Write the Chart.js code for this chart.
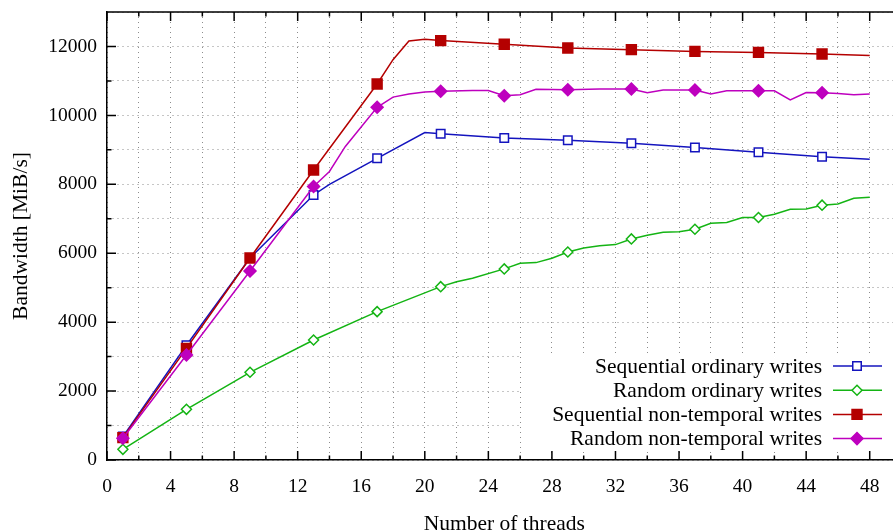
<!DOCTYPE html>
<html>
<head>
<meta charset="utf-8">
<script src="https://cdn.jsdelivr.net/npm/chart.js@4.4.1/dist/chart.umd.min.js"></script>
<style>
  html, body { margin: 0; padding: 0; overflow: hidden; background: #fff; }
  canvas { display: block; }
</style>
</head>
<body>
<canvas id="bw" width="910" height="531"></canvas>
<script>
// values (MiB/s), per thread count
var seqOrdThreads = [1, 5, 9, 13, 14, 17, 20, 21, 25, 29, 33, 37, 41, 45, 48];
var seqOrdValues = [680, 3330, 5860, 7690, 8000, 8755, 9500, 9470, 9345, 9280, 9190, 9070, 8930, 8800, 8725];

var rndOrdThreads = [1, 5, 9, 13, 17, 21, 22, 23, 25, 26, 27, 28, 29, 30, 31, 32, 33, 34, 35, 36, 37, 38, 39, 40, 41, 42, 43, 44, 45, 46, 47, 48];
var rndOrdValues = [310, 1470, 2545, 3483, 4305, 5030, 5175, 5272, 5545, 5710, 5728, 5853, 6037, 6150, 6220, 6250, 6415, 6520, 6610, 6620, 6695, 6870, 6890, 7035, 7035, 7130, 7275, 7285, 7395, 7430, 7595, 7625];

var seqNtThreads = [1, 5, 9, 13, 17, 18, 19, 20, 21, 25, 29, 33, 37, 41, 45, 48];
var seqNtValues = [650, 3240, 5860, 8416, 10910, 11616, 12160, 12210, 12170, 12064, 11957, 11908, 11857, 11828, 11780, 11740];

var rndNtThreads = [1, 5, 9, 13, 14, 15, 17, 18, 19, 20, 21, 23, 24, 25, 26, 27, 29, 31, 33, 34, 35, 37, 38, 39, 41, 42, 43, 44, 45, 46, 47, 48];
var rndNtValues = [630, 3047, 5485, 7937, 8372, 9098, 10235, 10530, 10620, 10680, 10700, 10720, 10720, 10570, 10600, 10755, 10745, 10765, 10765, 10657, 10735, 10735, 10620, 10715, 10715, 10715, 10450, 10665, 10655, 10635, 10600, 10620];

var seriesNames = ['Sequential ordinary writes', 'Random ordinary writes', 'Sequential non-temporal writes', 'Random non-temporal writes'];

var xTickStep = 2;   // labels every 4
var yTickStep = 1000; // labels every 2000

var serif = '"Liberation Serif", "Times New Roman", serif';

function pts(xs, ys) {
    return xs.map(function (x, i) { return {x: x, y: ys[i]}; });
}

// gnuplot style: marker only every 4th thread count (1, 5, 9, ...)
function markerRadius(r) {
    return function (ctx) {
        return ctx.raw && (ctx.raw.x - 1) % 4 === 0 ? r : 0;
    };
}

function makeSet(label, data, color, style, r, filled, order) {
    return {
        label: label,
        data: data,
        borderColor: color,
        backgroundColor: filled ? color : '#ffffff',
        pointBorderColor: color,
        pointBackgroundColor: filled ? color : '#ffffff',
        pointStyle: style,
        pointRadius: markerRadius(r),
        pointBorderWidth: 1.5,
        borderWidth: 1.5,
        tension: 0,
        fill: false,
        order: order,
        legendRadius: r
    };
}

var datasets = [
    makeSet(seriesNames[0], pts(seqOrdThreads, seqOrdValues), '#1414be', 'rect', 6, false, 4),
    makeSet(seriesNames[1], pts(rndOrdThreads, rndOrdValues), '#14b414', 'rectRot', 5, false, 3),
    makeSet(seriesNames[2], pts(seqNtThreads, seqNtValues), '#b40000', 'rect', 7, true, 2),
    makeSet(seriesNames[3], pts(rndNtThreads, rndNtValues), '#be00be', 'rectRot', 6, true, 1)
];

// keep the plot box fixed (no extra room for half labels)
function noLabelPad(s) {
    s.paddingTop = 0;
    s.paddingBottom = 0;
    s.paddingLeft = 0;
    s.paddingRight = 0;
}

// white box behind the key, like gnuplot's opaque key
var keyBox = {
    id: 'keyBox',
    beforeDatasetsDraw(chart) {
        var ctx = chart.ctx;
        ctx.save();
        ctx.fillStyle = '#ffffff';
        ctx.fillRect(522, 353, 390, 98);
        ctx.restore();
    },
    afterDraw(chart) {
        var ctx = chart.ctx;
        ctx.save();
        ctx.font = '21.5px ' + serif;
        ctx.textAlign = 'right';
        ctx.textBaseline = 'middle';
        chart.data.datasets.forEach(function (ds, i) {
            var y = 366 + i * 24.2;
            ctx.fillStyle = '#000';
            ctx.fillText(ds.label, 822, y + 1);
            ctx.strokeStyle = ds.borderColor;
            ctx.lineWidth = ds.borderWidth;
            ctx.beginPath();
            ctx.moveTo(833, y);
            ctx.lineTo(882, y);
            ctx.stroke();
            ctx.fillStyle = ds.pointBackgroundColor;
            ctx.lineWidth = ds.pointBorderWidth;
            Chart.helpers.drawPoint(ctx, {pointStyle: ds.pointStyle, radius: ds.legendRadius, borderWidth: ds.pointBorderWidth, rotation: 0}, 857, y);
        });
        ctx.restore();
    }
};

// inward ticks and top border
var tickMarks = {
    id: 'tickMarks',
    afterDraw(chart) {
        var ctx = chart.ctx, a = chart.chartArea;
        var x = chart.scales.x, y = chart.scales.y;
        ctx.save();
        ctx.strokeStyle = '#000';
        ctx.lineWidth = 1.5;
        ctx.beginPath();
        ctx.moveTo(a.left, a.top);
        ctx.lineTo(a.right, a.top);
        x.ticks.forEach(function (t) {
            var px = x.getPixelForValue(t.value);
            var len = t.value % 4 === 0 ? 9 : 4.5;
            ctx.moveTo(px, a.bottom);
            ctx.lineTo(px, a.bottom - len);
            ctx.moveTo(px, a.top);
            ctx.lineTo(px, a.top + len);
        });
        y.ticks.forEach(function (t) {
            var py = y.getPixelForValue(t.value);
            var len = t.value % 2000 === 0 ? 9 : 4.5;
            ctx.moveTo(a.left, py);
            ctx.lineTo(a.left + len, py);
        });
        ctx.stroke();
        ctx.restore();
    }
};

new Chart(document.getElementById('bw'), {
    type: 'line',
    data: {datasets: datasets},
    plugins: [keyBox, tickMarks],
    options: {
        responsive: false,
        animation: false,
        layout: {padding: {top: 12, right: 8, left: 0, bottom: 0}},
        plugins: {legend: {display: false}, tooltip: {enabled: false}},
        scales: {
            x: {
                type: 'linear',
                min: 0,
                max: 50,
                afterFit: function (s) { s.height = 71; noLabelPad(s); },
                ticks: {
                    stepSize: xTickStep,
                    padding: 15,
                    color: '#000',
                    font: {family: serif, size: 19.5},
                    callback: function (v) { return v % 4 === 0 ? v : ''; }
                },
                grid: {color: '#8c8c8c', lineWidth: 1, drawTicks: false},
                border: {color: '#000', width: 1.5, dash: [1, 4]},
                title: {
                    display: true,
                    text: 'Number of threads',
                    color: '#000',
                    font: {family: serif, size: 21.5, lineHeight: 1},
                    padding: {top: 0, bottom: -4}
                }
            },
            y: {
                min: 0,
                max: 13000,
                afterFit: function (s) { s.width = 107; noLabelPad(s); },
                ticks: {
                    stepSize: yTickStep,
                    padding: 10,
                    color: '#000',
                    font: {family: serif, size: 19.5},
                    callback: function (v) { return v % 2000 === 0 ? v : ''; }
                },
                grid: {color: '#8c8c8c', lineWidth: 1, drawTicks: false},
                border: {color: '#000', width: 1.5, dash: [1, 4]},
                title: {
                    display: true,
                    text: 'Bandwidth [MiB/s]',
                    color: '#000',
                    font: {family: serif, size: 21.5, lineHeight: 1},
                    padding: {top: 11, bottom: 0}
                }
            }
        }
    }
});
</script>
</body>
</html>
